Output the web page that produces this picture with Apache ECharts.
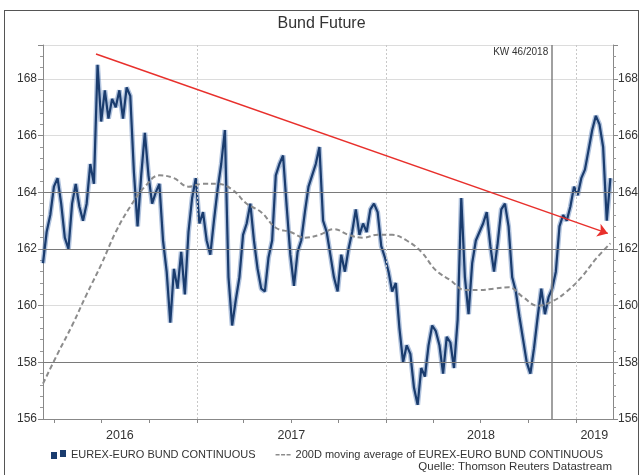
<!DOCTYPE html>
<html><head><meta charset="utf-8">
<script src="https://cdn.jsdelivr.net/npm/echarts@6/dist/echarts.min.js"></script>
<style>
html,body{margin:0;padding:0;background:#fff}
#c{width:643px;height:475px;position:absolute;left:0;top:0}
#frame{position:absolute;left:4px;top:10px;width:633px;height:480px;border:1px solid #555;pointer-events:none}
</style>
</head><body><div id="c"></div><div id="frame"></div>
<script>
const titleText = 'Bund Future';
const sourceText = 'Quelle: Thomson Reuters Datastream';
const priceName = 'EUREX-EURO BUND CONTINUOUS';
const maName = '200D moving average of EUREX-EURO BUND CONTINUOUS';
const kwLabel = 'KW 46/2018';
// weekly closes starting 2016-03-11
const priceStart = [2016, 3, 11];
const priceStepDays = 7;
const priceValues = [
161.5,162.6,163.2,164.2,164.5,163.6,162.4,162.0,163.6,164.3,
163.5,163.0,163.6,165.0,164.3,168.5,166.5,167.6,166.6,167.3,
167.0,167.6,166.6,167.7,167.4,164.7,162.8,164.6,166.1,164.6,
163.6,164.0,164.3,162.3,161.2,159.4,161.3,160.6,161.9,160.4,
162.6,163.8,164.5,162.9,163.3,162.3,161.8,163.0,164.1,165.0,
166.2,161.0,159.3,160.2,161.0,162.5,162.9,163.6,162.3,161.3,
160.6,160.5,161.7,162.3,164.6,165.0,165.3,163.5,161.8,160.7,
161.9,162.3,163.3,164.2,164.6,165.0,165.6,163.0,162.6,161.8,
161.0,160.5,161.8,161.2,162.0,162.6,163.4,162.5,162.9,162.6,
163.4,163.6,163.3,162.1,161.7,161.2,160.5,160.8,159.2,158.0,
158.6,158.3,157.1,156.5,157.8,157.5,158.6,159.3,159.1,158.6,
157.6,158.9,158.7,157.8,159.5,163.8,161.0,159.7,161.5,162.3,
162.6,162.9,163.3,162.1,161.2,162.2,163.4,163.6,162.8,161.0,
160.5,159.6,158.8,158.0,157.6,158.5,159.6,160.6,159.7,160.3,
160.6,161.2,162.8,163.2,163.0,163.5,164.2,163.9,164.5,164.8,
165.5,166.2,166.7,166.4,165.6,163.0,164.5
];
// 200D moving average, every 4 weeks from 2016-03-11
const maStepDays = 28;
const maValues = [
157.25,158.3,159.3,160.4,161.45,162.6,163.5,164.2,164.6,164.5,
164.2,164.3,164.3,164.1,163.6,163.3,162.75,162.6,162.4,162.5,
162.7,162.5,162.4,162.5,162.5,162.3,161.9,161.25,160.9,160.55,
160.55,160.6,160.65,160.3,160.0,160.15,160.5,161.0,161.65,162.2
];
const xMin = [2016, 3, 11];
const xMax = [2019, 3, 13];
const quarterTicks = [[2016,4,1],[2016,7,1],[2016,10,1],[2017,1,1],[2017,4,1],[2017,7,1],[2017,10,1],[2018,1,1],[2018,4,1],[2018,7,1],[2018,10,1],[2019,1,1]];
const yearLabelPos = [[2016,8,6],[2017,7,2],[2018,7,2],[2019,2,5]];
const yearLines = [[2017,1,1],[2018,1,1],[2019,1,1]];
const darkGridValues = [158, 162, 164];
const kwDate = [2018, 11, 16];
const trendStart = {date: [2016, 6, 21], value: 168.88};
const trendEnd = {date: [2019, 3, 3], value: 162.55};
const yMin = 156, yMax = 169.2, yInterval = 2;

function ts(d, addDays) { return new Date(d[0], d[1]-1, d[2] + (addDays||0)).getTime(); }
const priceData = priceValues.map((v,i)=>[ts(priceStart, i*priceStepDays), v]);
const maData = maValues.map((v,i)=>[ts(priceStart, i*maStepDays), v]);

const chart = echarts.init(document.getElementById('c'), null, {renderer:'canvas'});
const font = 'Liberation Sans, Arial, sans-serif';
function yAxisDef(pos, margin, split) {
  return {
    type:'value', position:pos, min:yMin, max:yMax, interval:yInterval,
    axisLine:{show:true, lineStyle:{color:'#888'}},
    axisTick:{show:true, length:5, lineStyle:{color:'#888'}},
    minorTick:{show:true, splitNumber:5, length:3, lineStyle:{color:'#999'}},
    minorSplitLine:{show:false},
    splitLine:{show:split, lineStyle:{color:'#dcdcdc'}},
    axisLabel:{color:'#333', fontSize:12, fontFamily:font, showMaxLabel:false, margin:margin},
  };
}
const dashIcon = 'path://M0,0h0.01v0.01h-0.01z M0,4h4v1.6h-4z M5.5,4h4v1.6h-4z M11,4h4v1.6h-4z M14.99,8.99h0.01v0.01h-0.01z';
chart.setOption({
  animation:false,
  textStyle:{fontFamily:font},
  title:{text:titleText, left:'center', top:11, textStyle:{fontSize:16, fontWeight:'normal', color:'#333', fontFamily:font}},
  grid:{left:43, right:30, top:45, bottom:56},
  legend:{
    left:46, top:444, itemGap:20, itemWidth:15, itemHeight:9,
    textStyle:{fontSize:11, color:'#333', fontFamily:font},
    data:[{name:priceName, icon:'path://M0,3h6v7h-6z M9,1h6v7h-6z'}, {name:maName, icon:dashIcon, itemStyle:{color:'#8c8c8c'}}]
  },
  graphic:[{type:'text', right:31, top:461, style:{text:sourceText, fill:'#333', font:'11.5px Liberation Sans, Arial'}}],
  xAxis:{
    type:'value', min:ts(xMin), max:ts(xMax),
    axisLine:{show:true, onZero:false, lineStyle:{color:'#888'}},
    axisTick:{show:true, length:4, lineStyle:{color:'#888'}, customValues:quarterTicks.map(d=>ts(d))},
    axisLabel:{color:'#333', fontSize:12.5, fontFamily:font, margin:10, customValues:yearLabelPos.map(d=>ts(d)),
      formatter:(v)=>String(new Date(v).getFullYear())},
    splitLine:{show:false}, minorTick:{show:false}
  },
  yAxis:[ yAxisDef('left', 6, true), yAxisDef('right', 5, false) ],
  series:[
    {
      name:'_grid', type:'line', data:maData, showSymbol:false, symbol:'none', silent:true, z:1,
      lineStyle:{opacity:0},
      markLine:{
        silent:true, symbol:['none','none'], label:{show:false},
        data:[
          ...darkGridValues.map(v=>({yAxis:v, lineStyle:{color:'#7a7a7a', width:1, type:'solid'}})),
          ...yearLines.map(d=>({xAxis:ts(d), lineStyle:{color:'#c8c8c8', width:1, type:[2,2]}})),
          {xAxis:ts(kwDate), lineStyle:{color:'#808080', width:1.5, type:'solid'}}
        ]
      },
      markPoint:{
        silent:true, symbol:'circle', symbolSize:0,
        data:[{coord:[ts(kwDate), 168.95], label:{show:true, position:'left', distance:4, formatter:kwLabel, color:'#333', fontSize:10, fontFamily:font}}]
      }
    },
    {
      name:'_priceFringe', type:'line', data:priceData, symbol:'none', silent:true, z:2,
      lineStyle:{color:'rgba(80,120,180,0.45)', width:5}
    },
    {
      name:priceName, type:'line', data:priceData, symbol:'none', z:3,
      lineStyle:{color:'#1a3c6e', width:2.2}, itemStyle:{color:'#1a3c6e'}
    },
    {
      name:maName, type:'line', data:maData, symbol:'none', smooth:0.4, z:4,
      lineStyle:{color:'#8c8c8c', width:2, type:[5,3]}, itemStyle:{color:'#8c8c8c'},
      markLine:{
        silent:true, label:{show:false}, symbol:['none','arrow'], symbolSize:10,
        lineStyle:{color:'#e8302c', width:1.5, type:'solid'},
        data:[[{coord:[ts(trendStart.date), trendStart.value]},{coord:[ts(trendEnd.date), trendEnd.value]}]]
      }
    }
  ]
});
</script>
</body></html>
